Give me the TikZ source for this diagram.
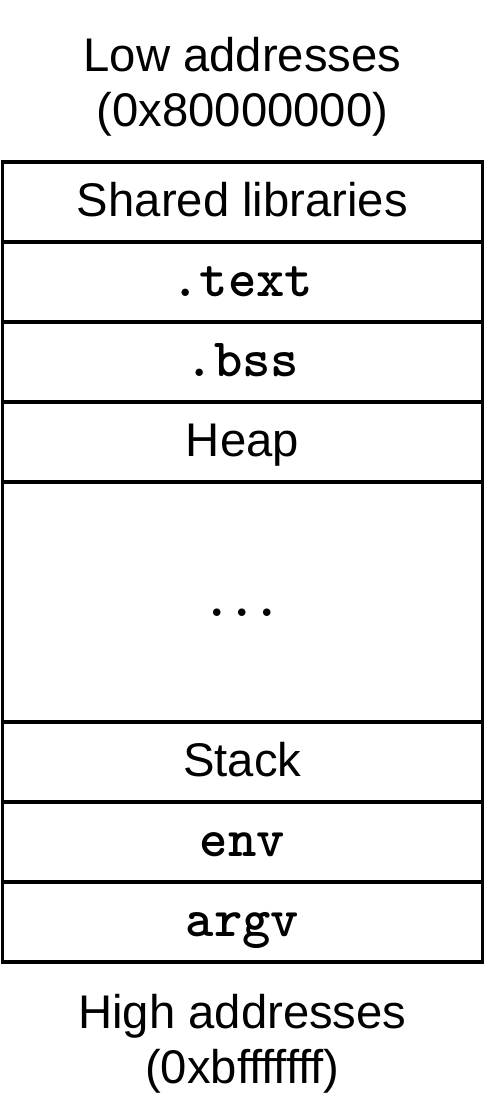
\documentclass[tikz,border=0pt]{standalone}
\usepackage{fontspec}
\setmainfont{Liberation Sans}
\usetikzlibrary{positioning}

\newcommand{\seg}[1]{{\fontsize{19.2}{22}\selectfont\ttfamily\bfseries #1}}
\newcommand{\gapdots}{{\fontsize{18.3}{22}\selectfont\mathversion{bold}$\ldots$}}

\begin{document}
\begin{tikzpicture}[
    region/.style={draw, line width=1.2pt, minimum width=6cm, minimum height=1cm,
      inner sep=0pt, outer sep=0pt, text height=12pt, text depth=2pt,
      font=\fontsize{16.8}{19.6}\selectfont},
    addr/.style={align=center, inner sep=0pt, font=\fontsize{16.8}{19.6}\selectfont}
  ]
  \useasboundingbox (-0.03,2.025) rectangle (6.07,-11.975);

  \node[region] (shared) at (3,-0.5) {Shared libraries};
  \node[region, below=0pt of shared] (text) {\seg{.text}};
  \node[region, below=0pt of text] (bss) {\seg{.bss}};
  \node[region, below=0pt of bss] (heap) {Heap};
  \node[region, below=0pt of heap, minimum height=3cm] (gap) {\gapdots};
  \node[region, below=0pt of gap] (stack) {Stack};
  \node[region, below=0pt of stack] (env) {\seg{env}};
  \node[region, below=0pt of env] (argv) {\seg{argv}};

  \node[addr, above=0.31cm of shared] (low) {Low addresses\\(0x80000000)};
  \node[addr, below=0.39cm of argv] (high) {High addresses\\(0xbfffffff)};
\end{tikzpicture}
\end{document}
